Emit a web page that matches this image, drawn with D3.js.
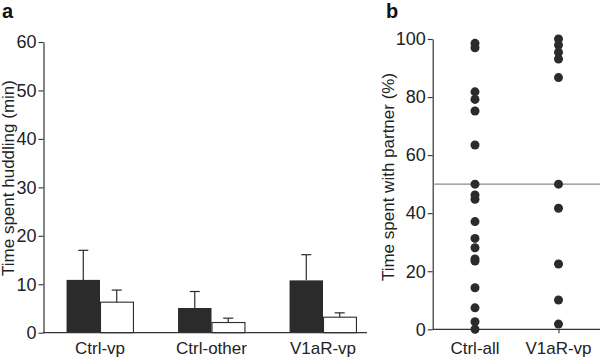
<!DOCTYPE html>
<html><head><meta charset="utf-8">
<script src="https://cdn.jsdelivr.net/npm/d3@7"></script>
<style>
html,body{margin:0;padding:0;background:#fff;}
svg{display:block;font-family:"Liberation Sans",Arial,Helvetica,sans-serif;}
</style></head>
<body>
<svg id="chart" width="600" height="358"></svg>
<script>
// Panel a data
const groupsA = ["Ctrl-vp", "Ctrl-other", "V1aR-vp"];
const blackMeans = [10.9, 5.1, 10.8];
const blackErr = [6.1, 3.4, 5.3];
const whiteMeans = [6.3, 2.1, 3.2];
const whiteErr = [2.5, 0.9, 0.9];
const ticksA = [0, 10, 20, 30, 40, 50, 60];

// Panel b data
const groupsB = ["Ctrl-all", "V1aR-vp"];
const ctrlAll = [98.5, 97, 81.8, 79.2, 75.2, 63.5, 50, 46.3, 44.8, 37.1, 31.3, 28.1, 24.2, 23.5, 14.3, 7.4, 2.6, 0];
const v1aRvp = [100, 97.9, 95.4, 93.1, 86.7, 50, 41.7, 22.5, 10.1, 1.8];
const ticksB = [0, 20, 40, 60, 80, 100];
const chanceLine = 50;

const dark = "#2b2b2b";
const axisCol = "#333";
const fs = 17;
const tfs = 18;

const svg = d3.select("#chart");

// ---------- Panel a ----------
const ya = d3.scaleLinear().domain([0, 60]).range([332.7, 42]);
const xa = d3.scaleBand().domain(groupsA).range([44.25, 378.75]).padding(0);
const bw = xa.bandwidth() * 0.3;
const ga = svg.append("g");

ga.append("text").attr("x", 2).attr("y", 18).attr("font-size", 20).attr("font-weight", "bold").attr("fill", "#111").text("a");

const yAxA = ga.append("g").attr("transform", "translate(43.5,0)")
  .call(d3.axisLeft(ya).tickValues(ticksA).tickSize(5).tickPadding(2).tickSizeOuter(0));
yAxA.select(".domain").attr("stroke", axisCol).attr("stroke-width", 1.2);
yAxA.selectAll(".tick line").attr("stroke", axisCol).attr("stroke-width", 1.1);
yAxA.selectAll(".tick text").attr("font-size", tfs).attr("fill", "#222").attr("font-family", "Liberation Sans, Arial, sans-serif");

const dataA = groupsA.map((g, i) => ({g, b: blackMeans[i], be: blackErr[i], w: whiteMeans[i], we: whiteErr[i]}));

function errBar(cx, m, e) {
  ga.append("line").attr("x1", cx).attr("x2", cx).attr("y1", ya(m)).attr("y2", ya(m + e)).attr("stroke", dark).attr("stroke-width", 1.2);
  ga.append("line").attr("x1", cx - 5).attr("x2", cx + 5).attr("y1", ya(m + e)).attr("y2", ya(m + e)).attr("stroke", dark).attr("stroke-width", 1.2);
}
dataA.forEach(d => {
  const c = xa(d.g) + xa.bandwidth() / 2;
  errBar(c - bw / 2, d.b, d.be);
  errBar(c + bw / 2, d.w, d.we);
});

ga.selectAll("rect.black").data(dataA).join("rect").attr("class", "black")
  .attr("x", d => xa(d.g) + xa.bandwidth() / 2 - bw)
  .attr("y", d => ya(d.b)).attr("width", bw).attr("height", d => ya(0) - ya(d.b))
  .attr("fill", dark);
ga.selectAll("rect.white").data(dataA).join("rect").attr("class", "white")
  .attr("x", d => xa(d.g) + xa.bandwidth() / 2 + 0.5)
  .attr("y", d => ya(d.w)).attr("width", bw - 0.5).attr("height", d => ya(0) - ya(d.w))
  .attr("fill", "#fff").attr("stroke", dark).attr("stroke-width", 1.1);

ga.append("line").attr("x1", 43).attr("x2", 367).attr("y1", ya(0)).attr("y2", ya(0)).attr("stroke", axisCol).attr("stroke-width", 1.2);

ga.selectAll("text.xl").data(groupsA).join("text").attr("class", "xl")
  .attr("x", d => xa(d) + xa.bandwidth() / 2).attr("y", 354)
  .attr("text-anchor", "middle").attr("font-size", fs).attr("fill", "#222").text(d => d);

ga.append("text").attr("transform", "translate(14,178) rotate(-90)")
  .attr("text-anchor", "middle").attr("font-size", fs).attr("fill", "#222")
  .text("Time spent huddling (min)");

// ---------- Panel b ----------
const yb = d3.scaleLinear().domain([0, 100]).range([329.3, 39]);
const xb = d3.scalePoint().domain(groupsB).range([475, 558.5]);
const gb = svg.append("g");

gb.append("text").attr("x", 386).attr("y", 18).attr("font-size", 20).attr("font-weight", "bold").attr("fill", "#111").text("b");

const yAxB = gb.append("g").attr("transform", "translate(432.7,0)")
  .call(d3.axisLeft(yb).tickValues(ticksB).tickSize(5).tickPadding(2).tickSizeOuter(0));
yAxB.select(".domain").attr("stroke", axisCol).attr("stroke-width", 1.2);
yAxB.selectAll(".tick line").attr("stroke", axisCol).attr("stroke-width", 1.1);
yAxB.selectAll(".tick text").attr("font-size", tfs).attr("fill", "#222").attr("font-family", "Liberation Sans, Arial, sans-serif");

gb.append("line").attr("x1", 432.7).attr("x2", 600).attr("y1", yb(chanceLine)).attr("y2", yb(chanceLine))
  .attr("stroke", "#8a8a8a").attr("stroke-width", 1.1);

const xAxB = gb.append("g").attr("transform", `translate(0,${yb(0)})`)
  .call(d3.axisBottom(xb).tickSize(4).tickFormat(""));
xAxB.select(".domain").remove();
xAxB.selectAll(".tick line").attr("stroke", axisCol).attr("stroke-width", 1.1);
gb.append("line").attr("x1", 432.7).attr("x2", 600).attr("y1", yb(0)).attr("y2", yb(0)).attr("stroke", axisCol).attr("stroke-width", 1.2);

const pts = [];
ctrlAll.forEach(v => pts.push({g: groupsB[0], v}));
v1aRvp.forEach(v => pts.push({g: groupsB[1], v}));
gb.selectAll("circle").data(pts).join("circle")
  .attr("cx", d => xb(d.g)).attr("cy", d => yb(d.v)).attr("r", 4.5).attr("fill", dark);

gb.selectAll("text.xl").data(groupsB).join("text").attr("class", "xl")
  .attr("x", d => xb(d)).attr("y", 354)
  .attr("text-anchor", "middle").attr("font-size", fs).attr("fill", "#222").text(d => d);

gb.append("text").attr("transform", "translate(394,177) rotate(-90)")
  .attr("text-anchor", "middle").attr("font-size", fs).attr("fill", "#222")
  .text("Time spent with partner (%)");
</script>
</body></html>
